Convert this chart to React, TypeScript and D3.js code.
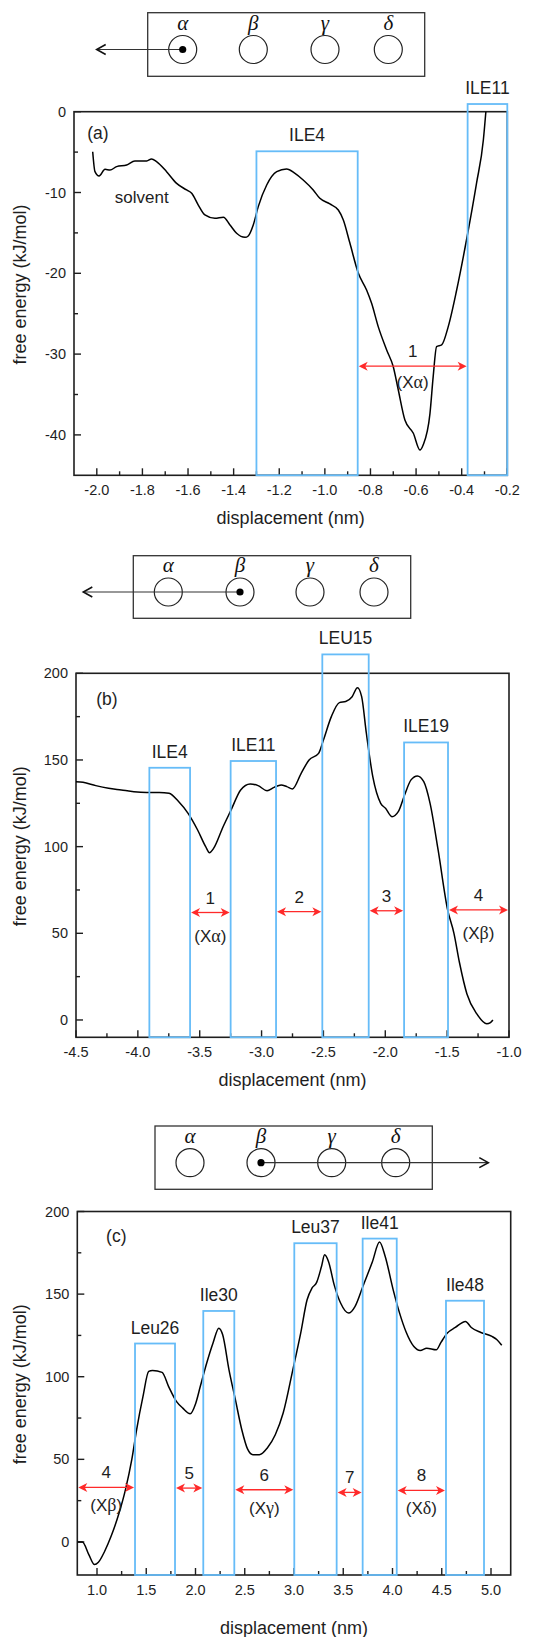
import React from 'react';
import * as d3 from 'd3';

// ---------- Panel (a) data ----------
const aX = [-2.018, -2.008, -1.990, -1.964, -1.942, -1.913, -1.869, -1.833, -1.781, -1.760, -1.738, -1.694, -1.650, -1.606, -1.584, -1.555, -1.526, -1.482, -1.445, -1.416, -1.387, -1.350, -1.336, -1.314, -1.292, -1.255, -1.211, -1.168, -1.131, -1.095, -1.051, -1.022, -0.978, -0.941, -0.919, -0.890, -0.853, -0.817, -0.795, -0.766, -0.729, -0.700, -0.678, -0.649, -0.612, -0.583, -0.569, -0.539, -0.525, -0.510, -0.488, -0.459, -0.422, -0.379, -0.335, -0.305, -0.294];
const aY = [-4.95, -7.42, -7.96, -7.13, -7.22, -6.80, -6.60, -6.10, -6.10, -5.85, -6.18, -7.42, -8.87, -9.69, -10.1, -11.55, -12.78, -13.2, -13.07, -14.02, -15.05, -15.55, -15.38, -14.02, -11.75, -9.07, -7.42, -7.09, -7.63, -8.45, -9.69, -10.72, -11.42, -12.17, -13.4, -16.29, -20.0, -22.07, -23.72, -26.6, -29.49, -31.56, -34.44, -38.16, -39.8, -41.87, -41.25, -37.33, -32.79, -29.08, -28.87, -26.6, -22.07, -15.88, -8.87, -3.5, 0];
const aRectLabels = ['ILE4', 'ILE11'];
const aRectStart = [-1.30, -0.374];
const aRectEnd = [-0.856, -0.2];
const aRectTop = [-4.9, 0.95];
const aArrowNum = ['1'];
const aArrowSub = ['α'];
const aArrowFrom = [-0.856];
const aArrowTo = [-0.374];
const aArrowLevel = [-31.5];
const aXMajor = [-2.0, -1.8, -1.6, -1.4, -1.2, -1.0, -0.8, -0.6, -0.4, -0.2];
const aXMinor = [-1.9, -1.7, -1.5, -1.3, -1.1, -0.9, -0.7, -0.5, -0.3];
const aYMajor = [0, -10, -20, -30, -40];
const aYMinor = [-5, -15, -25, -35];

// ---------- Panel (b) data ----------
const bX = [-4.5, -4.443, -4.340, -4.237, -4.134, -4.032, -3.929, -3.826, -3.748, -3.671, -3.594, -3.517, -3.452, -3.421, -3.388, -3.311, -3.246, -3.169, -3.092, -3.028, -2.956, -2.899, -2.842, -2.796, -2.750, -2.680, -2.616, -2.539, -2.500, -2.436, -2.371, -2.320, -2.268, -2.225, -2.191, -2.153, -2.101, -2.037, -1.998, -1.946, -1.895, -1.844, -1.792, -1.741, -1.689, -1.638, -1.573, -1.496, -1.445, -1.400, -1.340, -1.260, -1.180, -1.150, -1.130];
const bY = [137.5, 137.1, 135.2, 133.7, 132.7, 131.7, 131.3, 131.3, 130.8, 126, 119.2, 109.6, 100, 96.5, 99, 111.5, 121.2, 132.7, 136.2, 135.2, 132.3, 134.2, 135.6, 134.6, 133.3, 142.3, 150, 153.8, 161.5, 175, 183.1, 183.7, 186.5, 191.7, 186.5, 165.4, 140.4, 125, 122.1, 117.3, 120.2, 129.8, 138.5, 140.8, 137.5, 125, 98.1, 63.5, 50, 33, 15, 3.5, -2.2, -1.5, 0];
const bRectLabels = ['ILE4', 'ILE11', 'LEU15', 'ILE19'];
const bRectStart = [-3.907, -3.25, -2.509, -1.848];
const bRectEnd = [-3.578, -2.883, -2.134, -1.493];
const bRectTop = [145.5, 149.4, 210.9, 160.1];
const bArrowNum = ['1', '2', '3', '4'];
const bArrowSub = ['α', '', '', 'β'];
const bArrowFrom = [-3.578, -2.883, -2.134, -1.493];
const bArrowTo = [-3.25, -2.509, -1.848, -1.0];
const bArrowLevel = [62, 62.5, 63, 63.5];
const bXMajor = [-4.5, -4.0, -3.5, -3.0, -2.5, -2.0, -1.5, -1.0];
const bXMinor = [-4.25, -3.75, -3.25, -2.75, -2.25, -1.75, -1.25];
const bYMajor = [0, 50, 100, 150, 200];
const bYMinor = [25, 75, 125, 175];

// ---------- Panel (c) data ----------
const cX = [0.803, 0.852, 0.917, 0.975, 1.014, 1.078, 1.143, 1.224, 1.289, 1.353, 1.402, 1.467, 1.525, 1.564, 1.661, 1.726, 1.806, 1.871, 1.946, 2.001, 2.049, 2.114, 2.178, 2.237, 2.276, 2.340, 2.405, 2.470, 2.528, 2.583, 2.648, 2.729, 2.810, 2.890, 2.988, 3.068, 3.133, 3.182, 3.230, 3.279, 3.311, 3.350, 3.408, 3.473, 3.554, 3.619, 3.699, 3.797, 3.868, 3.926, 4.007, 4.072, 4.136, 4.217, 4.282, 4.347, 4.444, 4.492, 4.557, 4.638, 4.741, 4.800, 4.897, 5.010, 5.058, 5.109];
const cY = [0, 0, -7.7, -13.7, -12.3, -5.6, 3.4, 17.5, 31.7, 49.8, 67.9, 88.1, 103.2, 103.8, 102.6, 94.2, 85.1, 81, 77.6, 83.7, 94.2, 108.3, 120.4, 129.4, 125.4, 104.2, 86.1, 67.9, 56.3, 52.8, 52.8, 56.9, 64.9, 78, 104.2, 126.4, 146.6, 153.6, 157.1, 166.7, 173.8, 169.8, 155.6, 144.6, 138.5, 142.5, 154.6, 169.8, 181.5, 172.8, 152.6, 138.5, 127.4, 118.3, 115.9, 117.3, 116.3, 120.8, 126.4, 129.8, 133.5, 129.8, 126.8, 124.4, 122.5, 119];
const cRectLabels = ['Leu26', 'Ile30', 'Leu37', 'Ile41', 'Ile48'];
const cRectStart = [1.386, 2.079, 3.003, 3.697, 4.543];
const cRectEnd = [1.792, 2.394, 3.433, 4.043, 4.929];
const cRectTop = [120.1, 139.8, 180.8, 183.6, 146];
const cArrowNum = ['4', '5', '6', '7', '8'];
const cArrowSub = ['β', '', 'γ', '', 'δ'];
const cArrowFrom = [0.8, 1.792, 2.394, 3.433, 4.043];
const cArrowTo = [1.386, 2.079, 3.003, 3.697, 4.543];
const cArrowLevel = [33, 32.6, 31.6, 30, 31.2];
const cXMajor = [1.0, 1.5, 2.0, 2.5, 3.0, 3.5, 4.0, 4.5, 5.0];
const cXMinor = [1.25, 1.75, 2.25, 2.75, 3.25, 3.75, 4.25, 4.75];
const cYMajor = [0, 50, 100, 150, 200];
const cYMinor = [25, 75, 125, 175];

const greek = ['α', 'β', 'γ', 'δ'];

const SANS = '"Liberation Sans", Arial, sans-serif';
const SERIF = '"Liberation Serif", "Times New Roman", serif';
const BLUE = '#66BCF8';
const RED = '#FF2A2A';
const INK = '#1e1e1e';

type PanelProps = {
  xs: number[]; ys: number[];
  xDomain: [number, number]; yDomain: [number, number];
  left: number; right: number; top: number; bottom: number;
  xMajor: number[]; xMinor: number[]; yMajor: number[]; yMinor: number[];
  rectLabels: string[]; rectStart: number[]; rectEnd: number[]; rectTop: number[];
  arrowNum: string[]; arrowSub: string[]; arrowFrom: number[]; arrowTo: number[]; arrowLevel: number[];
  subOffset: number;
  letter: string; letterDx: number; letterDy: number;
  xTitleDy: number;
  extra?: React.ReactNode;
};

function Panel(p: PanelProps) {
  const x = d3.scaleLinear().domain(p.xDomain).range([p.left, p.right]);
  const y = d3.scaleLinear().domain(p.yDomain).range([p.bottom, p.top]);
  const pts: [number, number][] = p.xs.map((v, i) => [v, p.ys[i]]);
  const line = d3.line<[number, number]>().x(d => x(d[0])).y(d => y(d[1])).curve(d3.curveMonotoneX);
  const yBase = p.yDomain[0];
  const midY = (p.top + p.bottom) / 2;
  const midX = (p.left + p.right) / 2;
  const head = (tx: number, ty: number, dir: number) =>
    `M${tx},${ty} L${tx + dir * 9},${ty - 4.5} L${tx + dir * 6.5},${ty} L${tx + dir * 9},${ty + 4.5} Z`;
  return (
    <g>
      <rect x={p.left} y={p.top} width={p.right - p.left} height={p.bottom - p.top} fill="none" stroke={INK} strokeWidth={1.6} />
      {p.xMajor.map((t, i) => (
        <g key={'xm' + i}>
          <line x1={x(t)} x2={x(t)} y1={p.bottom} y2={p.bottom - 7} stroke={INK} strokeWidth={1.4} />
          <text x={x(t)} y={p.bottom + 20} textAnchor="middle" fontFamily={SANS} fontSize={14.5} fill={INK}>{t.toFixed(1)}</text>
        </g>
      ))}
      {p.xMinor.map((t, i) => (
        <line key={'xn' + i} x1={x(t)} x2={x(t)} y1={p.bottom} y2={p.bottom - 4} stroke={INK} strokeWidth={1.4} />
      ))}
      {p.yMajor.map((t, i) => (
        <g key={'ym' + i}>
          <line x1={p.left} x2={p.left + 7} y1={y(t)} y2={y(t)} stroke={INK} strokeWidth={1.4} />
          <text x={p.left - 8} y={y(t) + 5} textAnchor="end" fontFamily={SANS} fontSize={14.5} fill={INK}>{String(t)}</text>
        </g>
      ))}
      {p.yMinor.map((t, i) => (
        <line key={'yn' + i} x1={p.left} x2={p.left + 4} y1={y(t)} y2={y(t)} stroke={INK} strokeWidth={1.4} />
      ))}
      <text x={midX} y={p.bottom + p.xTitleDy} textAnchor="middle" fontFamily={SANS} fontSize={18} fill={INK}>displacement (nm)</text>
      <text transform={`translate(26,${midY - 9}) rotate(-90)`} textAnchor="middle" fontFamily={SANS} fontSize={18} fill={INK}>free energy (kJ/mol)</text>
      <path d={line(pts) || ''} fill="none" stroke="#000" strokeWidth={1.5} strokeLinejoin="round" />
      {p.rectLabels.map((lab, i) => (
        <g key={'r' + i}>
          <rect x={x(p.rectStart[i])} y={y(p.rectTop[i])} width={x(p.rectEnd[i]) - x(p.rectStart[i])} height={y(yBase) - y(p.rectTop[i])} fill="none" stroke={BLUE} strokeWidth={1.8} />
          <text x={(x(p.rectStart[i]) + x(p.rectEnd[i])) / 2} y={y(p.rectTop[i]) - 10} textAnchor="middle" fontFamily={SANS} fontSize={17.5} fill={INK}>{lab}</text>
        </g>
      ))}
      {p.arrowNum.map((n, i) => {
        const x0 = x(p.arrowFrom[i]);
        const x1 = x(p.arrowTo[i]);
        const yy = y(p.arrowLevel[i]);
        const cx = (x0 + x1) / 2;
        return (
          <g key={'a' + i}>
            <line x1={x0 + 6} x2={x1 - 6} y1={yy} y2={yy} stroke={RED} strokeWidth={1.3} />
            <path d={head(x0 + 1, yy, 1)} fill={RED} />
            <path d={head(x1 - 1, yy, -1)} fill={RED} />
            <text x={cx} y={yy - 9} textAnchor="middle" fontFamily={SANS} fontSize={17} fill={INK}>{n}</text>
            {p.arrowSub[i] ? (
              <text x={cx} y={yy + p.subOffset} textAnchor="middle" fontFamily={SANS} fontSize={17} fill={INK}>
                (X<tspan fontFamily={SERIF} fontSize={18}>{p.arrowSub[i]}</tspan>)
              </text>
            ) : null}
          </g>
        );
      })}
      <text x={p.left + p.letterDx} y={p.top + p.letterDy} textAnchor="middle" fontFamily={SANS} fontSize={17.5} fill={INK}>{p.letter}</text>
      {p.extra}
    </g>
  );
}

type SchemProps = { x0: number; x1: number; y0: number; y1: number; cxs: number[]; sel: number; arrowTip: number };

function Schematic(s: SchemProps) {
  const cy = (s.y0 + s.y1) / 2 + 5;
  const sx = s.cxs[s.sel];
  const dir = s.arrowTip < sx ? 1 : -1;
  return (
    <g>
      <rect x={s.x0} y={s.y0} width={s.x1 - s.x0} height={s.y1 - s.y0} fill="none" stroke="#333" strokeWidth={1.3} />
      {s.cxs.map((c, i) => (
        <g key={i}>
          <circle cx={c} cy={cy} r={14} fill="none" stroke="#222" strokeWidth={1.2} />
          <text x={c} y={cy - 20} textAnchor="middle" fontFamily={SERIF} fontStyle="italic" fontSize={21} fill="#111">{greek[i]}</text>
        </g>
      ))}
      <line x1={sx} x2={s.arrowTip} y1={cy} y2={cy} stroke="#333" strokeWidth={1.2} />
      <polyline points={`${s.arrowTip + dir * 9},${cy - 5} ${s.arrowTip},${cy} ${s.arrowTip + dir * 9},${cy + 5}`} fill="none" stroke="#111" strokeWidth={1.6} />
      <circle cx={sx} cy={cy} r={3.6} fill="#000" />
    </g>
  );
}

export default function App() {
  return (
    <svg width={547} height={1637} style={{ position: 'absolute', left: 0, top: 0, background: '#fff' }}>
      <rect x={0} y={0} width={547} height={1637} fill="#fff" />
      <Schematic x0={147.7} x1={424.7} y0={12.7} y1={76.3} cxs={[182.7, 253.3, 325, 388.3]} sel={0} arrowTip={96.7} />
      <Panel xs={aX} ys={aY} xDomain={[-2.1, -0.2]} yDomain={[-45, 0]} left={74} right={507.3} top={111.7} bottom={475.3}
        xMajor={aXMajor} xMinor={aXMinor} yMajor={aYMajor} yMinor={aYMinor}
        rectLabels={aRectLabels} rectStart={aRectStart} rectEnd={aRectEnd} rectTop={aRectTop}
        arrowNum={aArrowNum} arrowSub={aArrowSub} arrowFrom={aArrowFrom} arrowTo={aArrowTo} arrowLevel={aArrowLevel}
        subOffset={22} letter="(a)" letterDx={24} letterDy={27} xTitleDy={49}
        extra={<text x={141.7} y={203} textAnchor="middle" fontFamily={SANS} fontSize={17} fill={INK}>solvent</text>} />

      <Schematic x0={133.3} x1={410.7} y0={555.7} y1={618.3} cxs={[168.3, 240, 310, 374]} sel={1} arrowTip={83.3} />
      <Panel xs={bX} ys={bY} xDomain={[-4.5, -1.0]} yDomain={[-10, 200]} left={76} right={509} top={673.3} bottom={1037.3}
        xMajor={bXMajor} xMinor={bXMinor} yMajor={bYMajor} yMinor={bYMinor}
        rectLabels={bRectLabels} rectStart={bRectStart} rectEnd={bRectEnd} rectTop={bRectTop}
        arrowNum={bArrowNum} arrowSub={bArrowSub} arrowFrom={bArrowFrom} arrowTo={bArrowTo} arrowLevel={bArrowLevel}
        subOffset={29} letter="(b)" letterDx={31} letterDy={32} xTitleDy={49} />

      <Schematic x0={155} x1={432.3} y0={1126} y1={1189.3} cxs={[190, 261, 331.7, 395.7]} sel={1} arrowTip={488.3} />
      <Panel xs={cX} ys={cY} xDomain={[0.8, 5.2]} yDomain={[-20, 200]} left={77.3} right={510.7} top={1211.5} bottom={1575}
        xMajor={cXMajor} xMinor={cXMinor} yMajor={cYMajor} yMinor={cYMinor}
        rectLabels={cRectLabels} rectStart={cRectStart} rectEnd={cRectEnd} rectTop={cRectTop}
        arrowNum={cArrowNum} arrowSub={cArrowSub} arrowFrom={cArrowFrom} arrowTo={cArrowTo} arrowLevel={cArrowLevel}
        subOffset={24} letter="(c)" letterDx={39} letterDy={30} xTitleDy={59} />
    </svg>
  );
}
